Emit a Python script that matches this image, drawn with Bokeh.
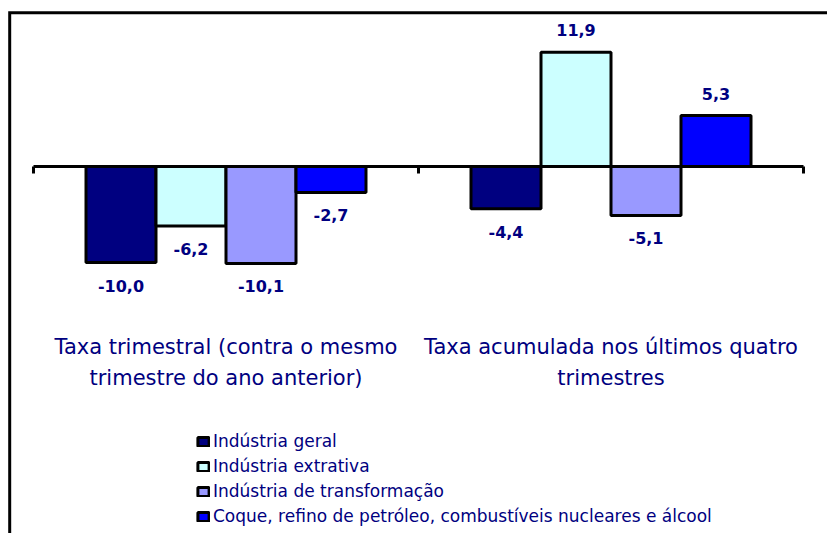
from bokeh.plotting import figure
from bokeh.models import (Range1d, LinearAxis, FixedTicker, ColumnDataSource,
                          Legend, LegendItem)
from bokeh.embed import file_html
from bokeh.resources import INLINE
from bokeh.core.properties import value

# ---------------- data ----------------
categories = ["Taxa trimestral (contra o mesmo\ntrimestre do ano anterior)",
              "Taxa acumulada nos últimos quatro\ntrimestres"]
series_names = ["Indústria geral",
                "Indústria extrativa",
                "Indústria de transformação",
                "Coque, refino de petróleo, combustíveis nucleares e álcool"]
industria_geral = [-10.0, -4.4]
industria_extrativa = [-6.2, 11.9]
industria_transformacao = [-10.1, -5.1]
coque_refino = [-2.7, 5.3]
series_values = [industria_geral, industria_extrativa, industria_transformacao, coque_refino]
colors = ["#000080", "#CCFFFF", "#9999FF", "#0000FF"]

# ---------------- layout (pixels) ----------------
W, H = 827, 533
AX_L, AX_R = 33, 803          # canvas x of the category axis ends
ZERO_Y = 166                  # canvas y of value 0
PX_PER_UNIT_Y = 9.6
BAR_PX = 70
NAVY = "#000080"
FONT = "DejaVu Sans"

n = len(categories)
unit_x = (AX_R - AX_L) / n
x_range = Range1d(-AX_L / unit_x, n + (W - AX_R) / unit_x)
y_range = Range1d(-(H - ZERO_Y) / PX_PER_UNIT_Y, ZERO_Y / PX_PER_UNIT_Y)

p = figure(width=W, height=H, x_range=x_range, y_range=y_range,
           x_axis_type=None, y_axis_type=None, toolbar_location=None,
           output_backend="svg", min_border=0)
p.outline_line_color = None
p.xgrid.visible = False
p.ygrid.visible = False
p.background_fill_color = "white"
p.border_fill_color = "white"

# chart border (only left and top edges are visible)
bx = (9.2 - AX_L) / unit_x
by = (ZERO_Y - 12.2) / PX_PER_UNIT_Y
p.line(x=[bx, bx, x_range.end + 1], y=[y_range.start - 1, by, by],
       line_color="black", line_width=3, line_join="miter")

bar_w = BAR_PX / unit_x
items = []
for k, (name, vals, col) in enumerate(zip(series_names, series_values, colors)):
    xs = [i + 0.5 + (k - (len(series_values) - 1) / 2) * bar_w for i in range(n)]
    src = ColumnDataSource(dict(
        x=xs, top=vals,
        label=[f"{v:.1f}".replace(".", ",") for v in vals],
        off=[-22 if v >= 0 else 23 for v in vals]))
    r = p.vbar(x="x", top="top", bottom=0, width=bar_w, source=src,
               fill_color=col, line_color="black", line_width=3)
    p.text(x="x", y="top", text="label", y_offset="off", source=src,
           text_align="center", text_baseline="middle",
           text_font=value(FONT), text_font_style="bold",
           text_font_size="16px", text_color=NAVY)
    items.append(LegendItem(label=name, renderers=[r]))

# zero line with ticks at category boundaries
zero_axis = LinearAxis(fixed_location=0, ticker=FixedTicker(ticks=list(range(n + 1))),
                       bounds=(0, n), axis_line_width=3, axis_line_color="black",
                       major_tick_line_width=3, major_tick_line_color="black",
                       major_tick_out=7, major_tick_in=0,
                       minor_tick_line_color=None,
                       major_label_overrides={i: "" for i in range(n + 1)})
p.add_layout(zero_axis, "below")

# category labels
CAT_Y = (ZERO_Y - 334) / PX_PER_UNIT_Y
cat_axis = LinearAxis(fixed_location=CAT_Y,
                      ticker=FixedTicker(ticks=[i + 0.5 for i in range(n)]),
                      major_label_overrides={i + 0.5: c for i, c in enumerate(categories)},
                      axis_line_color=None, major_tick_line_color=None,
                      minor_tick_line_color=None, major_tick_out=0, major_tick_in=0,
                      major_label_standoff=0,
                      major_label_text_font=FONT, major_label_text_font_size="21px",
                      major_label_text_color=NAVY, major_label_text_line_height=1.3)
p.add_layout(cat_axis, "below")

legend = Legend(items=items, location=(196, 7),
                label_text_font=FONT, label_text_font_size="17px",
                label_text_color=NAVY, glyph_width=14, glyph_height=11,
                label_height=20, spacing=5, label_standoff=3,
                padding=0, margin=0, border_line_color=None,
                background_fill_alpha=0)
p.add_layout(legend)

open("out.html", "w").write(file_html(p, INLINE))
